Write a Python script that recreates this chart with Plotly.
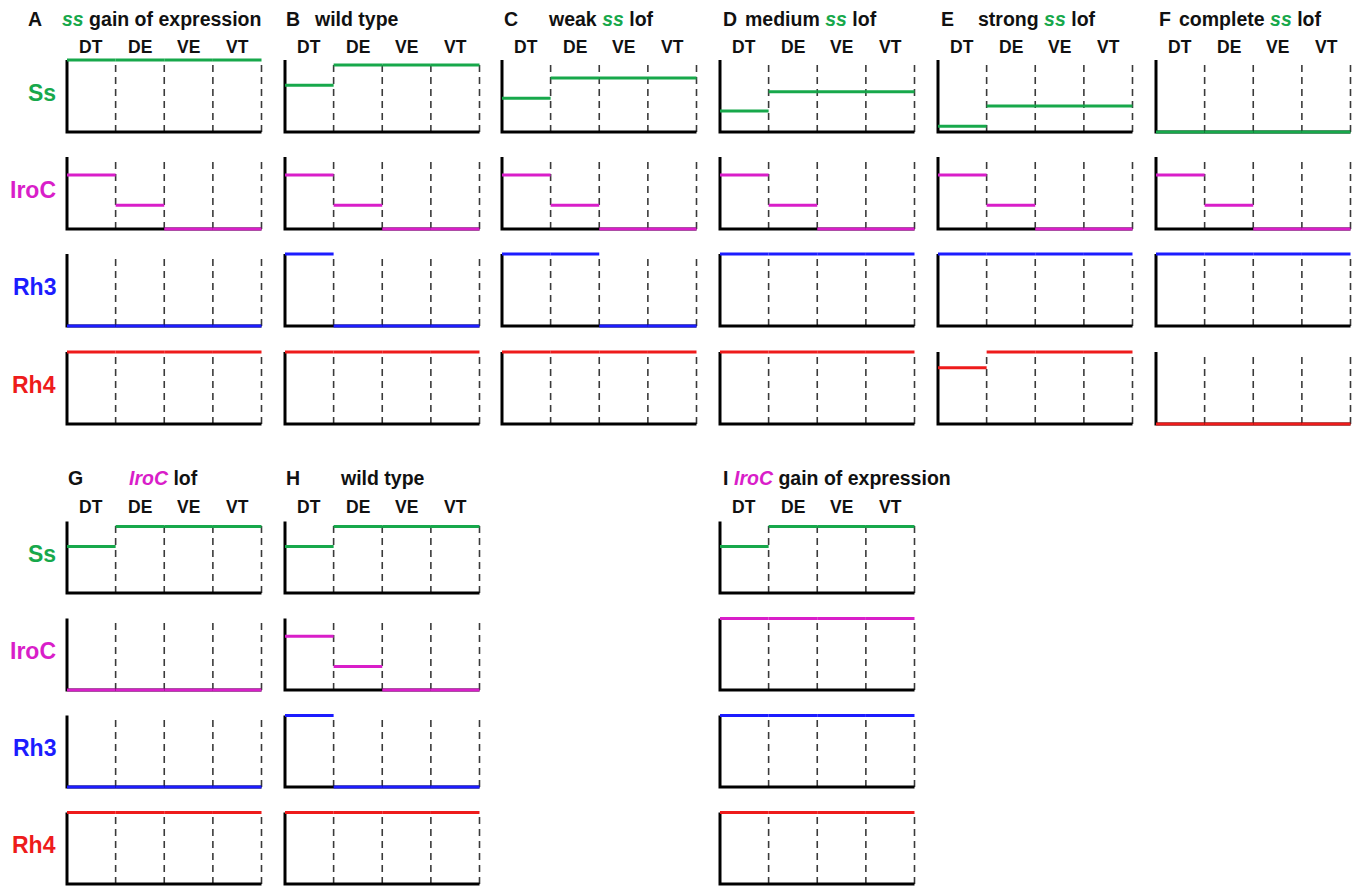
import plotly.graph_objects as go

# ---------------- data ----------------
regions = ["DT", "DE", "VE", "VT"]
genes = ["Ss", "IroC", "Rh3", "Rh4"]
gene_colors = ["#17a84b", "#d91ec9", "#1c1cff", "#ee1b1b"]

panel_letters = ["A", "B", "C", "D", "E", "F", "G", "H", "I"]
GREEN_SS = "<i><span style='color:#17a84b'>ss</span></i>"
MAG_IROC = "<i><span style='color:#d91ec9'>IroC</span></i>"
panel_titles = [
    GREEN_SS + " gain of expression",
    "wild type",
    "weak " + GREEN_SS + " lof",
    "medium " + GREEN_SS + " lof",
    "strong " + GREEN_SS + " lof",
    "complete " + GREEN_SS + " lof",
    MAG_IROC + " lof",
    "wild type",
    MAG_IROC + " gain of expression",
]

# relative expression level (0..1) in DT, DE, VE, VT for panels A..I
ss = [
    [1.00, 1.00, 1.00, 1.00],
    [0.65, 0.93, 0.93, 0.93],
    [0.47, 0.75, 0.75, 0.75],
    [0.29, 0.56, 0.56, 0.56],
    [0.08, 0.36, 0.36, 0.36],
    [0.00, 0.00, 0.00, 0.00],
    [0.65, 0.93, 0.93, 0.93],
    [0.65, 0.93, 0.93, 0.93],
    [0.65, 0.93, 0.93, 0.93],
]
iroc = [
    [0.75, 0.33, 0.00, 0.00],
    [0.75, 0.33, 0.00, 0.00],
    [0.75, 0.33, 0.00, 0.00],
    [0.75, 0.33, 0.00, 0.00],
    [0.75, 0.33, 0.00, 0.00],
    [0.75, 0.33, 0.00, 0.00],
    [0.00, 0.00, 0.00, 0.00],
    [0.75, 0.33, 0.00, 0.00],
    [1.00, 1.00, 1.00, 1.00],
]
rh3 = [
    [0, 0, 0, 0],
    [1, 0, 0, 0],
    [1, 1, 0, 0],
    [1, 1, 1, 1],
    [1, 1, 1, 1],
    [1, 1, 1, 1],
    [0, 0, 0, 0],
    [1, 0, 0, 0],
    [1, 1, 1, 1],
]
rh4 = [
    [1.00, 1, 1, 1],
    [1.00, 1, 1, 1],
    [1.00, 1, 1, 1],
    [1.00, 1, 1, 1],
    [0.78, 1, 1, 1],
    [0.00, 0, 0, 0],
    [1.00, 1, 1, 1],
    [1.00, 1, 1, 1],
    [1.00, 1, 1, 1],
]
levels = [ss, iroc, rh3, rh4]

# ---------------- layout geometry (pixels in the page) ----------------
W, H = 1360, 888
OFF = 8  # default page margin of the html body
FONT = "Liberation Sans, Arial, sans-serif"
panel_left = [67, 285, 502, 720, 938, 1156, 67, 285, 720]
panel_row = [0, 0, 0, 0, 0, 0, 1, 1, 1]
row_tops = [[60, 157, 254, 352], [521.5, 618.5, 715.5, 812.5]]
plot_h = [72, 71.5]
plot_w = 194.5
pad = 4
title_y = [18.5, 478.5]
col_label_y = [46.5, 507]
title_letter_x = [27, 285, 503, 722, 940, 1158, 67, 285, 722]
title_text_x = [61, 313, 547, 744, 977, 1178, 128, 339, 733]
TITLE_SIZE = 19.5
COL_SIZE = 17.5
ROW_SIZE = 23


def fx(px):
    return (px - OFF) / W


def fy(py):
    return 1 - (py - OFF) / H


fig = go.Figure()
layout = dict(
    width=W, height=H, margin=dict(l=0, r=0, t=0, b=0),
    paper_bgcolor="white", plot_bgcolor="white", showlegend=False,
    font=dict(family=FONT, color="#111"),
)
shapes = []
annotations = []

n = 0
for p in range(len(panel_letters)):
    r = panel_row[p]
    x0 = panel_left[p]
    ph = plot_h[r]
    for g in range(len(genes)):
        n += 1
        xa = "x" if n == 1 else f"x{n}"
        ya = "y" if n == 1 else f"y{n}"
        xkey = "xaxis" if n == 1 else f"xaxis{n}"
        ykey = "yaxis" if n == 1 else f"yaxis{n}"
        y0 = row_tops[r][g]
        layout[xkey] = dict(
            domain=[max(0, fx(x0 - pad)), min(1, fx(x0 + plot_w + pad))],
            range=[-pad / plot_w * 4, 4 + pad / plot_w * 4],
            visible=False, anchor=ya, fixedrange=True,
        )
        layout[ykey] = dict(
            domain=[max(0, fy(y0 + ph + pad)), min(1, fy(y0 - pad))],
            range=[-pad / ph, 1 + pad / ph],
            visible=False, anchor=xa, fixedrange=True,
        )
        # dashed region boundaries
        for k in range(1, len(regions) + 1):
            shapes.append(dict(
                type="line", xref=xa, yref=ya, x0=k, x1=k, y0=0, y1=1,
                line=dict(color="#3a3a3a", width=1.6, dash="7px,5px"),
                layer="below",
            ))
        # L-shaped axes
        shapes.append(dict(
            type="path", xref=xa, yref=ya,
            path=f"M 0 1 L 0 0 L {len(regions)} 0",
            line=dict(color="black", width=3), layer="below",
        ))
        # expression segments
        xs, ys = [], []
        for k, v in enumerate(levels[g][p]):
            xs += [k, k + 1, None]
            ys += [v, v, None]
        fig.add_trace(go.Scatter(
            x=xs, y=ys, mode="lines", xaxis=xa, yaxis=ya,
            line=dict(color=gene_colors[g], width=3),
            hoverinfo="skip",
        ))
        # row labels on the left-most panels
        if x0 == 67:
            annotations.append(dict(
                x=fx(57), y=fy(y0 + ph / 2 - 3), xref="paper", yref="paper",
                xanchor="right", yanchor="middle", showarrow=False,
                text=f"<b>{genes[g]}</b>", borderpad=0,
                font=dict(family=FONT, size=ROW_SIZE, color=gene_colors[g]),
            ))
    # column labels
    for k, lab in enumerate(regions):
        annotations.append(dict(
            x=fx(x0 + plot_w / 4 * (k + 0.5)), y=fy(col_label_y[r]),
            xref="paper", yref="paper", xanchor="center", yanchor="middle",
            showarrow=False, text=f"<b>{lab}</b>", borderpad=0,
            font=dict(family=FONT, size=COL_SIZE, color="#111"),
        ))
    # panel titles
    annotations.append(dict(
        x=fx(title_letter_x[p]), y=fy(title_y[r]), xref="paper", yref="paper",
        xanchor="left", yanchor="middle", showarrow=False, borderpad=0,
        text=f"<b>{panel_letters[p]}</b>",
        font=dict(family=FONT, size=TITLE_SIZE, color="#111"),
    ))
    annotations.append(dict(
        x=fx(title_text_x[p]), y=fy(title_y[r]), xref="paper", yref="paper",
        xanchor="left", yanchor="middle", showarrow=False, borderpad=0,
        text=f"<b>{panel_titles[p]}</b>",
        font=dict(family=FONT, size=TITLE_SIZE, color="#111"),
    ))

layout["shapes"] = shapes
layout["annotations"] = annotations
fig.update_layout(**layout)
fig.write_html("out.html")
